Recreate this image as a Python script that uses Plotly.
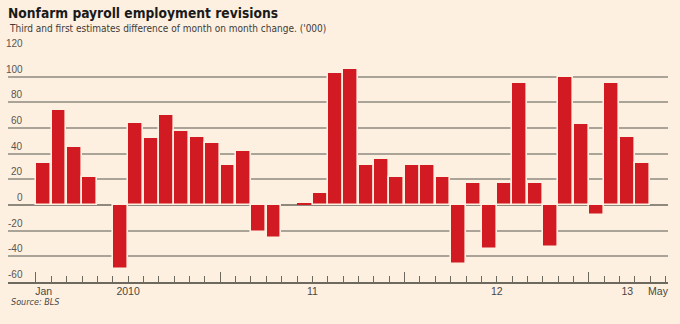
import plotly.graph_objects as go

# ---- data (month index 0 = Jan 2010, last bar = Apr 2013; axis runs to May 2013) ----
months = ["Jan10", "Feb10", "Mar10", "Apr10", "May10", "Jun10", "Jul10", "Aug10", "Sep10", "Oct10",
          "Nov10", "Dec10", "Jan11", "Feb11", "Mar11", "Apr11", "May11", "Jun11", "Jul11", "Aug11",
          "Sep11", "Oct11", "Nov11", "Dec11", "Jan12", "Feb12", "Mar12", "Apr12", "May12", "Jun12",
          "Jul12", "Aug12", "Sep12", "Oct12", "Nov12", "Dec12", "Jan13", "Feb13", "Mar13", "Apr13"]
revisions = [33, 74, 45, 22, None, -50, 64, 52, 70, 58,
             53, 48, 31, 42, -21, -26, None, 1.5, 9, 103,
             106, 31, 36, 22, 31, 31, 22, -46, 17, -34,
             17, 95, 17, -33, 100, 63, -8, 95, 53, 33]

y_ticks = [-60, -40, -20, 0, 20, 40, 60, 80, 100, 120]
y_tick_labels = ["-60", "-40", "-20", "0", "20", "40", "60", "80", "100", "120"]

x_label_pos = [0, 5.5, 17.5, 29.5, 38, 40]
x_label_text = ["Jan", "2010", "11", "12", "13", "May"]

n_slots = 41  # Jan 2010 .. May 2013
month_bounds = [i - 0.5 for i in range(n_slots + 1)]
year_bounds = [-0.5, 11.5, 23.5, 35.5]

BG = "#FDF0E1"
RED = "#D11A22"
GRID = "#A9A497"
AXIS = "#6E695F"
FONT = "Liberation Sans, Arial, sans-serif"
NARROW = "Liberation Sans Narrow, Arial Narrow, DejaVu Sans Condensed, sans-serif"

x_idx = list(range(len(months)))

fig = go.Figure()
fig.add_trace(go.Bar(
    x=x_idx, y=revisions, customdata=months,
    marker=dict(color=RED,
                line=dict(color=BG, width=[0 if (v is None or abs(v) < 5) else 1.6 for v in revisions])),
    width=0.97, hovertemplate="%{customdata}: %{y}<extra></extra>", showlegend=False,
))
# helper traces for the overlaid tick axes
fig.add_trace(go.Scatter(x=[None], y=[None], xaxis="x2", showlegend=False, hoverinfo="skip"))
fig.add_trace(go.Scatter(x=[None], y=[None], xaxis="x3", showlegend=False, hoverinfo="skip"))

xr = [-2.32, 40.65]
fig.update_layout(
    width=680, height=324,
    margin=dict(l=8, r=12, t=51, b=42),
    paper_bgcolor=BG, plot_bgcolor=BG,
    bargap=0,
    xaxis=dict(range=xr, showgrid=False, zeroline=False, showline=True, linecolor=AXIS, linewidth=1.5,
               tickmode="array", tickvals=month_bounds, ticks="inside", ticklen=6, tickwidth=1,
               tickcolor=AXIS, showticklabels=False),
    xaxis2=dict(range=xr, overlaying="x", anchor="y", side="bottom", showgrid=False, zeroline=False,
                showline=False, tickmode="array", tickvals=year_bounds, ticks="inside", ticklen=10,
                tickwidth=1, tickcolor=AXIS, showticklabels=False),
    xaxis3=dict(range=xr, overlaying="x", anchor="y", side="bottom", showgrid=False, zeroline=False,
                showline=False, tickmode="array", tickvals=x_label_pos, ticktext=x_label_text,
                ticks="", ticklabelstandoff=1,
                tickfont=dict(family=FONT, size=10.5, color="#4A4742")),
    yaxis=dict(range=[-60, 120], tickmode="array", tickvals=y_ticks, showticklabels=False,
               showgrid=True, gridcolor=GRID, gridwidth=1.5, zeroline=True, zerolinecolor="#8E897C",
               zerolinewidth=1.5, ticks=""),
    title=dict(text="<b>Nonfarm payroll employment revisions</b>", x=8 / 680, xanchor="left",
               xref="container", y=1 - 8 / 324, yanchor="top", yref="container",
               font=dict(family=NARROW, size=13.7, color="#1A1A1A")),
)

annotations = [
    dict(text="Third and first estimates difference of month on month change. ('000)",
         xref="paper", yref="paper", x=-0.0015, y=1 + 15 / 231, xanchor="left", yanchor="bottom",
         showarrow=False, font=dict(family=NARROW, size=10, color="#3E3B37")),
    dict(text="<i>Source: BLS</i>", xref="paper", yref="paper", x=0.0015, y=-13 / 231,
         xanchor="left", yanchor="top", showarrow=False,
         font=dict(family=NARROW, size=9, color="#4A4742")),
]
for v, t in zip(y_ticks, y_tick_labels):
    annotations.append(dict(text=t, xref="paper", yref="y", x=17 / 660, y=v, xanchor="right",
                            yanchor="bottom", yshift=0, showarrow=False,
                            font=dict(family=FONT, size=10, color="#5A5650")))
fig.update_layout(annotations=annotations)

fig.write_html("out.html")
